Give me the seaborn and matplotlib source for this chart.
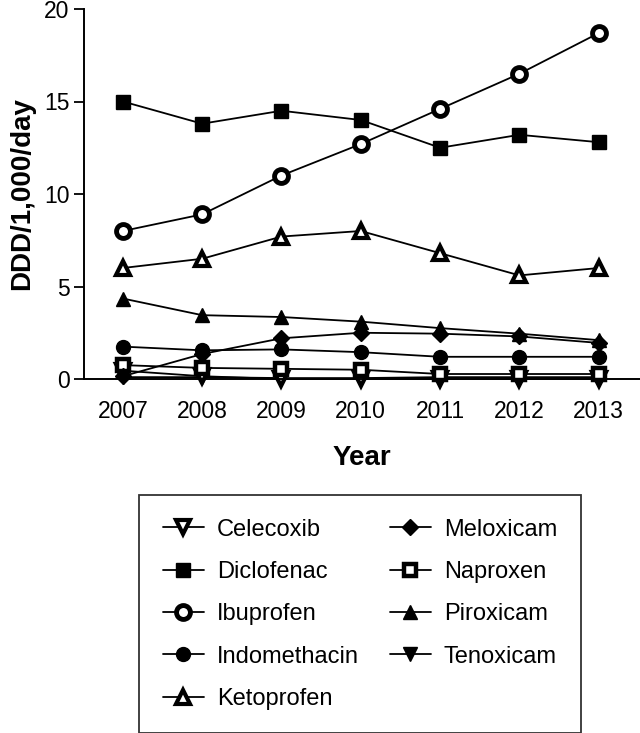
import pandas as pd
import seaborn as sns
import matplotlib.pyplot as plt

years = [2007, 2008, 2009, 2010, 2011, 2012, 2013]

celecoxib = [0.45, 0.15, 0.0, 0.0, 0.0, 0.0, 0.0]
diclofenac = [15.0, 13.8, 14.5, 14.0, 12.5, 13.2, 12.8]
ibuprofen = [8.0, 8.9, 11.0, 12.7, 14.6, 16.5, 18.7]
indomethacin = [1.75, 1.55, 1.6, 1.45, 1.2, 1.2, 1.2]
ketoprofen = [6.0, 6.5, 7.7, 8.0, 6.8, 5.6, 6.0]
meloxicam = [0.15, 1.35, 2.2, 2.5, 2.45, 2.3, 1.95]
naproxen = [0.75, 0.6, 0.55, 0.5, 0.27, 0.27, 0.27]
piroxicam = [4.35, 3.45, 3.35, 3.1, 2.75, 2.45, 2.1]
tenoxicam = [0.1, 0.1, 0.05, 0.05, 0.1, 0.1, 0.1]

drugs = ["Celecoxib", "Diclofenac", "Ibuprofen", "Indomethacin", "Ketoprofen",
         "Meloxicam", "Naproxen", "Piroxicam", "Tenoxicam"]
values = [celecoxib, diclofenac, ibuprofen, indomethacin, ketoprofen,
          meloxicam, naproxen, piroxicam, tenoxicam]

df = pd.DataFrame({
    "Year": years * len(drugs),
    "DDD": [v for vals in values for v in vals],
    "Drug": [d for d in drugs for _ in years],
})

# marker, filled?, size, edge width
styles = {
    "Celecoxib": ("v", False, 10, 3.0),
    "Diclofenac": ("s", True, 9.5, 1.0),
    "Ibuprofen": ("o", False, 10, 3.5),
    "Indomethacin": ("o", True, 10, 1.0),
    "Ketoprofen": ("^", False, 10.5, 3.0),
    "Meloxicam": ("D", True, 8.5, 1.0),
    "Naproxen": ("s", False, 9, 3.2),
    "Piroxicam": ("^", True, 10, 1.0),
    "Tenoxicam": ("v", True, 10, 1.0),
}

sns.set_style("ticks")
plt.rcParams["font.family"] = ["Liberation Sans", "DejaVu Sans"]
plt.rcParams["text.color"] = "black"
plt.rcParams["axes.labelcolor"] = "black"

fig = plt.figure(figsize=(6.4, 7.33), dpi=100)
ax = fig.add_axes([84 / 640, 1 - 379 / 733, 1 - 84 / 640, 370 / 733])

draw_order = ["Tenoxicam", "Celecoxib", "Naproxen", "Indomethacin", "Meloxicam",
              "Piroxicam", "Ketoprofen", "Diclofenac", "Ibuprofen"]
for name in draw_order:
    m, filled, ms, mew = styles[name]
    sns.lineplot(data=df[df["Drug"] == name], x="Year", y="DDD", ax=ax,
                 color="black", linewidth=1.3, marker=m, markersize=ms,
                 markerfacecolor="black" if filled else "white",
                 markeredgecolor="black", markeredgewidth=mew,
                 errorbar=None, label=name, legend=False, clip_on=False)

ax.set_xlim(2006.51, 2013.52)
ax.set_ylim(0, 20)
ax.set_xticks(years)
ax.set_yticks([0, 5, 10, 15, 20])
ax.tick_params(labelsize=16.5, length=7, width=1.3, colors="black")
ax.tick_params(axis="x", length=0, pad=15)
for s in ["top", "right"]:
    ax.spines[s].set_visible(False)
for s in ["left", "bottom"]:
    ax.spines[s].set_linewidth(1.4)
    ax.spines[s].set_color("black")
ax.set_xlabel("Year", fontsize=20, fontweight="bold", labelpad=16)
ax.set_ylabel("DDD/1,000/day", fontsize=20, fontweight="bold", labelpad=6)

handles, labels = ax.get_legend_handles_labels()
order = [labels.index(d) for d in drugs]
leg = fig.legend([handles[i] for i in order], [labels[i] for i in order],
                 ncol=2, loc="upper left", bbox_to_anchor=(139 / 640, 1 - 495 / 733),
                 borderaxespad=0, fontsize=17, frameon=True, fancybox=False,
                 edgecolor="black", handlelength=1.75, handletextpad=0.55,
                 columnspacing=1.3, labelspacing=0.86, borderpad=1.0)
leg.get_frame().set_linewidth(1.3)

fig.savefig("out.png", dpi=100)
